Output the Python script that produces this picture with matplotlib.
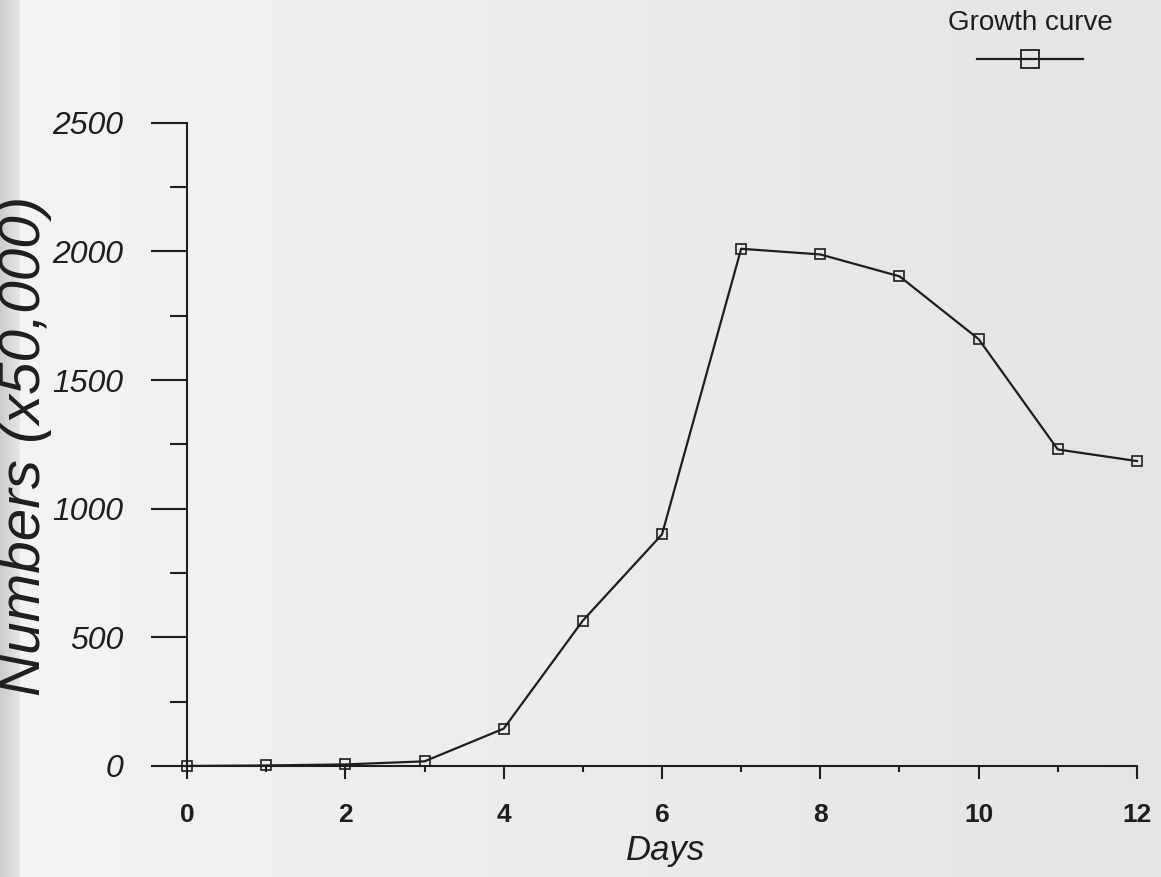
import numpy as np
import matplotlib.pyplot as plt
from matplotlib.lines import Line2D
from matplotlib.ticker import MultipleLocator

# values
days = [0, 1, 2, 3, 4, 5, 6, 7, 8, 9, 10, 11, 12]
numbers = [0, 2, 6, 18, 145, 565, 900, 2010, 1988, 1903, 1659, 1230, 1185]

y_ticks = [0, 500, 1000, 1500, 2000, 2500]
x_ticks = [0, 2, 4, 6, 8, 10, 12]

ink = '#1e1e1e'
paper = '#e9e9e9'

plt.rcParams['font.family'] = ['Liberation Sans', 'DejaVu Sans']

fig = plt.figure(figsize=(11.61, 8.77), dpi=100, facecolor=paper)

# scanned paper look: light page, greyer toward the right, dark binding strip at left
bg = fig.add_axes([0, 0, 1, 1], zorder=-10)
w = np.linspace(0, 1, 1161)
shade = 0.955 - 0.06 * w
shade[:20] = 0.80 + 0.1 * np.linspace(0, 1, 20)
rgb = np.repeat(np.tile(shade, (4, 1))[:, :, None], 3, axis=2)
bg.imshow(rgb, aspect='auto', extent=[0, 1, 0, 1], interpolation='bilinear')
bg.axis('off')

ax = fig.add_axes([0.1611, 0.1266, 0.8182, 0.7335])
ax.set_facecolor('none')

ax.plot(days, numbers, color=ink, lw=1.6, marker='s', ms=7,
        mfc='none', mec=ink, mew=1.2, clip_on=False, zorder=3)

ax.set_xlim(0, 12)
ax.set_ylim(0, 2500)

ax.spines['top'].set_visible(False)
ax.spines['right'].set_visible(False)
for s in ['left', 'bottom']:
    ax.spines[s].set_color(ink)
    ax.spines[s].set_linewidth(1.5)

ax.set_xticks(x_ticks)
ax.set_yticks(y_ticks)
ax.xaxis.set_minor_locator(MultipleLocator(1))
ax.yaxis.set_minor_locator(MultipleLocator(250))

ax.tick_params(axis='y', which='major', direction='out', length=26, width=1.5,
               color=ink, pad=20, labelsize=23, labelcolor=ink)
ax.tick_params(axis='y', which='minor', direction='out', length=12, width=1.5, color=ink)
ax.tick_params(axis='x', which='major', direction='out', length=9, width=1.5,
               color=ink, pad=18, labelsize=19, labelcolor=ink)
ax.tick_params(axis='x', which='minor', direction='out', length=4, width=1.5, color=ink)

for lab in ax.get_yticklabels():
    lab.set_fontstyle('italic')
for lab in ax.get_xticklabels():
    lab.set_fontweight('bold')

ax.set_xlabel('Days', fontsize=25, fontstyle='italic', color=ink)
ax.xaxis.set_label_coords(0.504, -0.106)
ax.set_ylabel('Numbers (x50,000)', fontsize=42, fontstyle='italic', color=ink)
ax.yaxis.set_label_coords(-0.142, 0.497)

handle = Line2D([], [], color=ink, lw=1.6, marker='s', ms=13, mfc='none', mec=ink, mew=1.3)
leg = ax.legend(handles=[handle], labels=[''], title='Growth curve', loc='upper center',
                bbox_to_anchor=(1030 / 1161, 1.0105), bbox_transform=fig.transFigure,
                frameon=False, fontsize=20, title_fontsize=20, handlelength=3.8,
                handletextpad=0, borderpad=0.2, labelspacing=0.45)
leg.get_title().set_color(ink)

fig.savefig('out.png', dpi=100, facecolor=paper)
